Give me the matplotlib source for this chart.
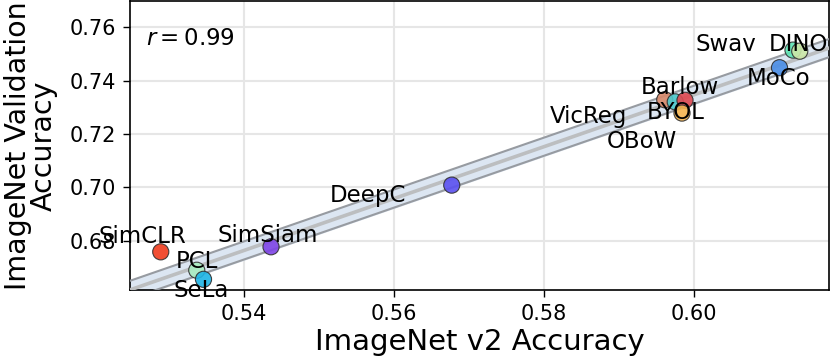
import numpy as np
import matplotlib
matplotlib.use("Agg")
import matplotlib.pyplot as plt

# model names and accuracies (v2 vs validation)
methods = ["SimCLR", "PCL", "SeLa", "SimSiam", "DeepC", "VicReg", "Barlow",
           "BYOL", "OBoW", "MoCo", "Swav", "DINO"]
v2_acc = [0.5289, 0.5337, 0.5346, 0.5436, 0.5677, 0.5961, 0.5975,
          0.5988, 0.5984, 0.6114, 0.6132, 0.6141]
val_acc = [0.6758, 0.6689, 0.6655, 0.6777, 0.7008, 0.7328, 0.7320,
           0.7326, 0.7278, 0.7448, 0.7514, 0.7510]
colors = ["#f03c1e", "#a8ecc0", "#1eb4e6", "#7e44e6", "#5a50f0", "#d8896a",
          "#4cc8cc", "#e04850", "#f4b450", "#4a8ee6", "#5ee4b4", "#cce8a8"]
r_value = "0.99"

# label offsets in pixels (dx, dy)
offsets = [(-18, 15), (0, 9), (-2, -11), (-3, 11), (-84, -10), (-76, -17),
           (5, 14), (-9, -12), (-40, -28), (-1, -11), (-67, 6), (-1, 7)]

fig = plt.figure(figsize=(8.31, 3.62), dpi=100)
ax = fig.add_axes([130 / 831, 72 / 362, 699 / 831, 289 / 362])

x = np.array(v2_acc)
y = np.array(val_acc)
slope, icpt = np.polyfit(x, y, 1)
xl = np.linspace(0.52, 0.63, 50)
yl = slope * xl + icpt
hw = 0.0034
ax.fill_between(xl, yl - hw, yl + hw, color="#dce6f2", zorder=2)
ax.plot(xl, yl - hw, color="#979ba1", lw=1.5, zorder=3)
ax.plot(xl, yl + hw, color="#979ba1", lw=1.5, zorder=3)
ax.plot(xl, yl, color="#bcbec0", lw=2.6, zorder=3)

ax.scatter(x, y, s=135, c=colors, edgecolors="#303030", linewidths=0.8,
           alpha=0.9, zorder=4)

for name, xi, yi, (dx, dy) in zip(methods, v2_acc, val_acc, offsets):
    ax.annotate(name, (xi, yi), xytext=(dx, dy), textcoords="offset pixels",
                ha="center", va="center", fontsize=16.5, zorder=5)

ax.text(0.023, 0.87, r"$r = $" + r_value, transform=ax.transAxes,
        fontsize=16.5, va="center", ha="left")

ax.set_xlim(0.5248, 0.6180)
ax.set_ylim(0.6615, 0.7698)
ax.set_xticks([0.54, 0.56, 0.58, 0.60])
ax.set_yticks([0.68, 0.70, 0.72, 0.74, 0.76])
ax.tick_params(labelsize=15, length=5, width=1, pad=5)
ax.grid(True, color="#e6e6e6", lw=1.5, zorder=0)
ax.set_axisbelow(True)
ax.set_xlabel("ImageNet v2 Accuracy", fontsize=21, labelpad=3)
ax.set_ylabel("ImageNet Validation\nAccuracy", fontsize=20.5, linespacing=0.9)
ax.yaxis.set_label_coords(-0.104, 0.5)
for sp in ax.spines.values():
    sp.set_linewidth(1.2)

fig.savefig("out.png", dpi=100)
